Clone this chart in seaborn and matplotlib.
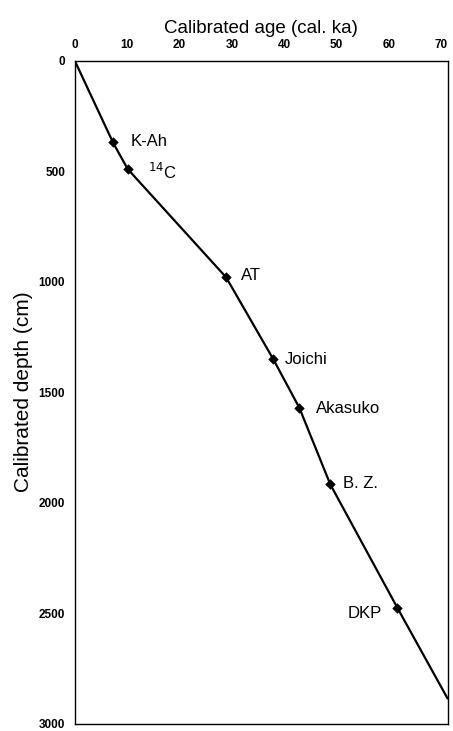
import numpy as np
import pandas as pd
import matplotlib
matplotlib.use('Agg')
import matplotlib.pyplot as plt
import seaborn as sns

sns.set_style('white')
plt.rcParams['font.family'] = ['Liberation Sans', 'DejaVu Sans']
plt.rcParams['text.color'] = 'black'
plt.rcParams['axes.labelcolor'] = 'black'
plt.rcParams['xtick.color'] = 'black'
plt.rcParams['ytick.color'] = 'black'

# age-depth model
ages = [0, 7.3, 10.1, 28.9, 37.9, 42.9, 48.8, 61.6, 71.2]
depths = [0, 370, 490, 980, 1350, 1571, 1917, 2475, 2886]

# tie points
tie_names = ['K-Ah', '$^{14}$C', 'AT', 'Joichi', 'Akasuko', 'B. Z.', 'DKP']
tie_ages = [7.3, 10.1, 28.9, 37.9, 42.9, 48.8, 61.6]
tie_depths = [370, 490, 980, 1350, 1571, 1917, 2475]

x_ticks = [0, 10, 20, 30, 40, 50, 60, 70]
y_ticks = [0, 500, 1000, 1500, 2000, 2500, 3000]

df = pd.DataFrame({'age': ages, 'depth': depths})
ties = pd.DataFrame({'age': tie_ages, 'depth': tie_depths, 'name': tie_names})

fig = plt.figure(figsize=(4.53, 7.31), dpi=100)
ax = fig.add_axes([0.165, 0.01, 0.823, 0.907])

sns.lineplot(data=df, x='age', y='depth', sort=False, color='black', lw=1.6, ax=ax)
sns.scatterplot(data=ties, x='age', y='depth', marker='D', s=24, color='black',
                edgecolor='black', zorder=3, ax=ax)

# label offsets in points
offsets = [(13, 1), (15, -2), (11, 1.5), (8, -0.5), (12, -0.5), (9, 0.5), (-11, -4)]
for (a, d, n), (dx, dy) in zip(ties[['age', 'depth', 'name']].values, offsets):
    ha = 'left' if dx > 0 else 'right'
    ax.annotate(n, (a, d), xytext=(dx, dy), textcoords='offset points',
                ha=ha, va='center', fontsize=12)

ax.set_xlim(0, 71.2)
ax.set_ylim(3000, 0)
ax.set_xticks(x_ticks)
ax.set_yticks(y_ticks)
ax.xaxis.tick_top()
ax.xaxis.set_label_position('top')
ax.tick_params(axis='both', length=0, labelsize=8.5, pad=7)
for lab in ax.get_xticklabels() + ax.get_yticklabels():
    lab.set_fontweight('bold')
ax.set_xlabel('Calibrated age (cal. ka)', fontsize=13.5, labelpad=4)
ax.set_ylabel('Calibrated depth (cm)', fontsize=15, labelpad=4)
for s in ax.spines.values():
    s.set_color('black')
    s.set_linewidth(1.0)

fig.savefig('out.png', dpi=100)
